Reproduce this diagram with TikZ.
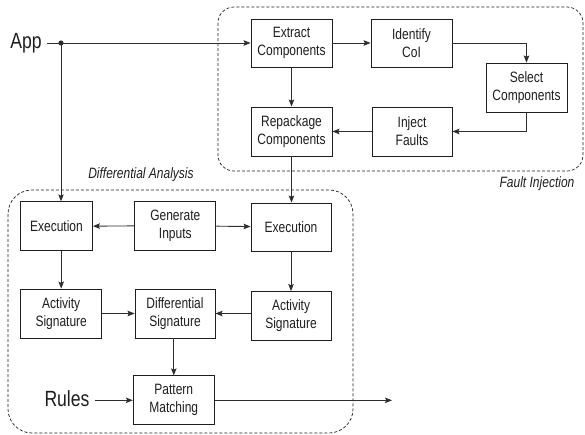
\documentclass[tikz,border=0pt]{standalone}
\usepackage{fontspec}
\setmainfont[FakeStretch=0.8]{Liberation Sans}
\usetikzlibrary{arrows.meta}
\definecolor{ink}{HTML}{1E1E1E}
\definecolor{wire}{HTML}{2E2E2E}
\tikzset{
  box/.style={draw=ink, line width=0.9pt, fill=white, align=center, text=ink,
    inner sep=0pt, font=\fontsize{15}{18}\selectfont},
  arr/.style={draw=wire, line width=0.9pt, -{Stealth[length=7pt,width=5.5pt,inset=1.3pt]}},
  group/.style={draw=ink, line width=0.7pt, dash pattern=on 3pt off 2pt},
  biglabel/.style={text=ink, inner sep=0pt, font=\fontsize{22}{24}\selectfont},
  grouplabel/.style={text=ink, inner sep=0pt, font=\fontsize{15}{16}\selectfont\itshape},
}
\begin{document}
\begin{tikzpicture}[x=1pt, y=-1pt]
\useasboundingbox (0,0) rectangle (585,434);

% group frames
\draw[group, rounded corners=16pt] (218,7) rectangle (583,171);
\draw[group, rounded corners=24pt] (8,190) rectangle (353,433);
\node[grouplabel] (filabel) at (537,184) {Fault Injection};
\node[grouplabel] (dalabel) at (141,175) {Differential Analysis};

% fault injection stage
\node[box, minimum width=81pt, minimum height=48pt] (ext)   at (291.5,43)  {Extract\\Components};
\node[box, minimum width=81pt, minimum height=48pt] (ident) at (411.5,43)  {Identify\\CoI};
\node[box, minimum width=81pt, minimum height=49pt] (sel)   at (526.5,87.5) {Select\\Components};
\node[box, minimum width=80pt, minimum height=49pt] (inj)   at (412,131.5) {Inject\\Faults};
\node[box, minimum width=81pt, minimum height=49pt] (rep)   at (291.5,131.5) {Repackage\\Components};

% differential analysis stage
\node[box, minimum width=72pt, minimum height=49pt] (exL) at (56.5,226.3) {Execution};
\node[box, minimum width=81pt, minimum height=49pt] (gen) at (175.3,225.7) {Generate\\Inputs};
\node[box, minimum width=80pt, minimum height=48pt] (exR) at (291,227) {Execution};
\node[box, minimum width=81pt, minimum height=49pt] (actL) at (61.2,313.5) {Activity\\Signature};
\node[box, minimum width=80pt, minimum height=49pt] (dif)  at (175,313.5) {Differential\\Signature};
\node[box, minimum width=80pt, minimum height=49pt] (actR) at (291,316) {Activity\\Signature};
\node[box, minimum width=81pt, minimum height=49pt] (pat)  at (173.8,400.3) {Pattern\\Matching};

% inputs and output
\node[biglabel] (app)   at (26,43)  {App};
\node[biglabel] (rules) at (67,399) {Rules};
\coordinate (jn)  at (61,43);
\coordinate (out) at (392,400.3);

% connectors
\draw[arr] ([xshift=5pt]app.east) -- (ext.west);
\fill[wire] (jn) circle (2.6pt);
\draw[arr] (jn) -- (jn |- exL.north);
\draw[arr] (ext) -- (ident);
\draw[arr] (ident.east) -| (sel.north);
\draw[arr] (sel.south) |- (inj.east);
\draw[arr] (inj) -- (rep);
\draw[arr] (ext) -- (rep);
\draw[arr] (rep.south) -- (rep.south |- exR.north);
\draw[arr] (gen) -- (exL);
\draw[arr] (gen) -- (exR);
\draw[arr] (actL.north |- exL.south) -- (actL.north);
\draw[arr] (exR) -- (actR);
\draw[arr] (actL.east |- dif.east) -- (dif.west);
\draw[arr] (actR.west |- dif.east) -- (dif.east);
\draw[arr] (pat.north |- dif.south) -- (pat.north);
\draw[arr] ([xshift=5pt]rules.east |- pat.west) -- (pat.west);
\draw[arr] (pat.east) -- (out);
\end{tikzpicture}
\end{document}
